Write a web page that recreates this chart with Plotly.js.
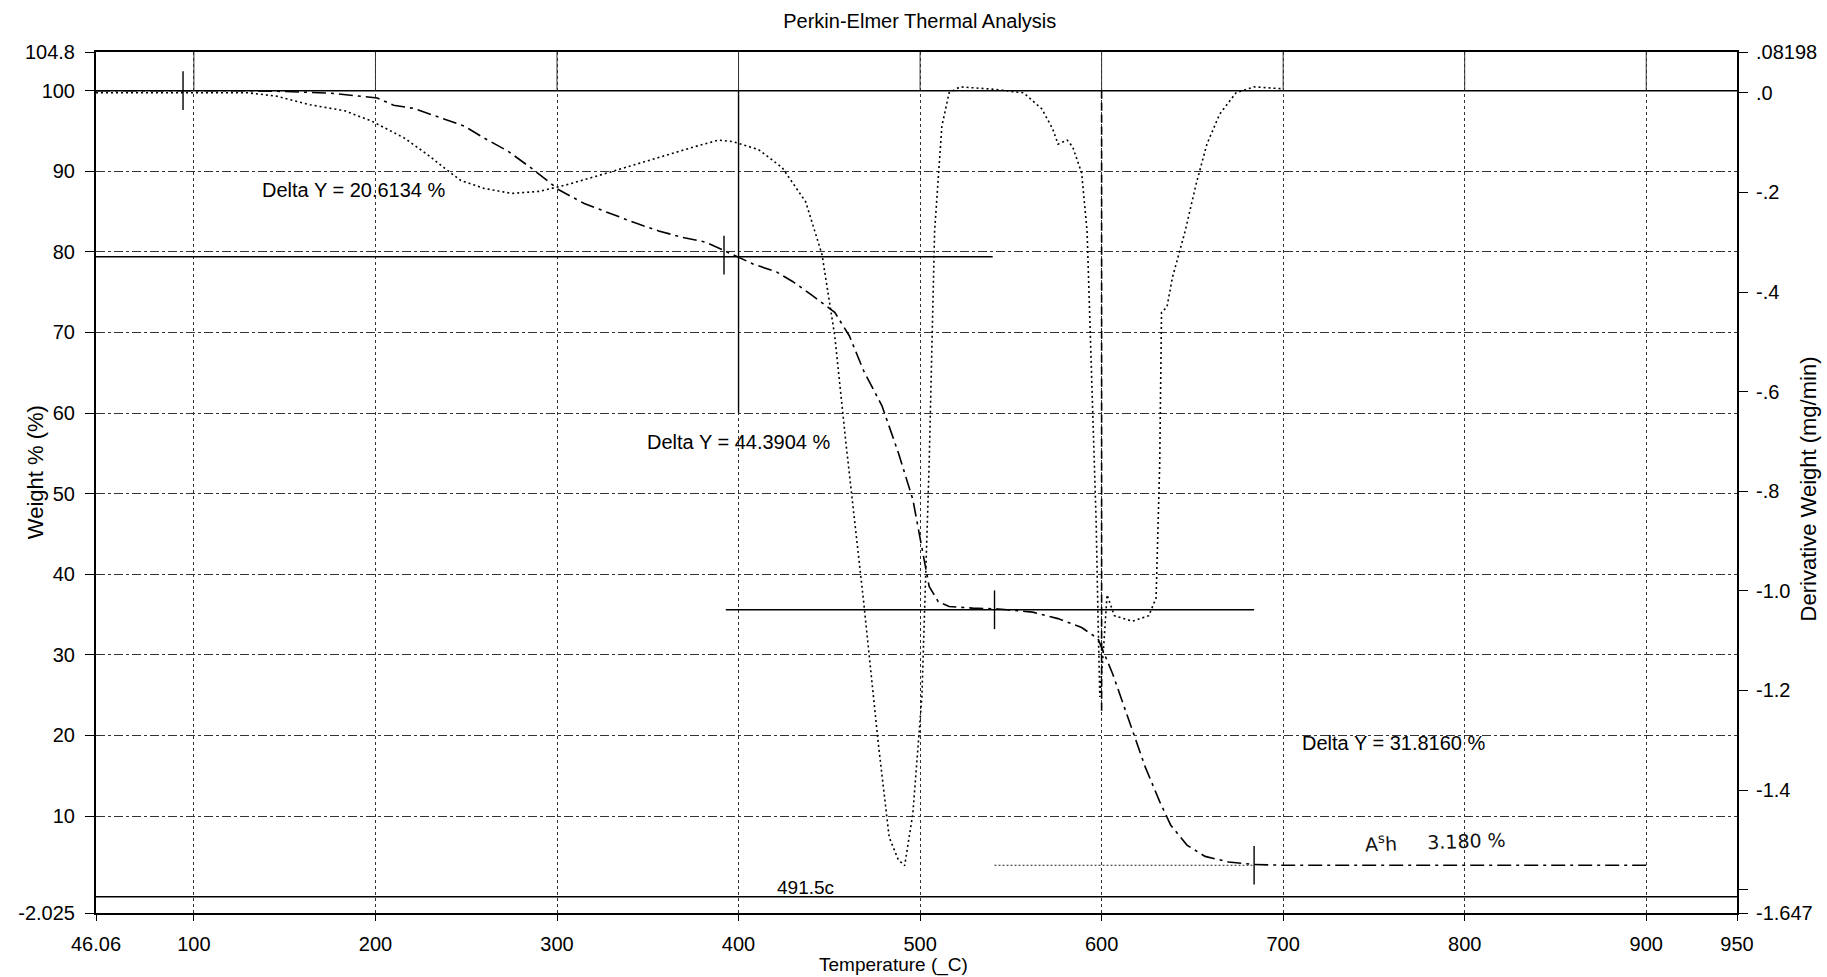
<!DOCTYPE html>
<html><head><meta charset="utf-8">
<script src="https://cdn.plot.ly/plotly-3.0.1.min.js"></script>
<style>html,body{margin:0;padding:0;background:#fff;} #chart{width:1827px;height:977px;}</style>
</head><body><div id="chart"></div>
<script>
// ---- Weight % curve (TGA) ----
const tempWeight = [46.06,100,130,150,175,201,210,221,231,242,249,260,273,287,301,315,329,343,356,369,382,397,408,421,430,440,453,461,469,479,488,496,501,505,510,516,529,543,562,576,589,598,606,616,624,632,638,647,657,670,684,700,800,900];
const weightPct  = [100,100,100,99.9,99.7,99.1,98.2,97.8,97.0,96.2,95.6,94.1,92.5,90.2,87.7,86.0,84.8,83.6,82.6,81.8,81.2,79.7,78.5,77.5,76.3,74.7,72.5,69.6,65.2,60.9,55.1,49.3,43.5,38.5,36.6,36.0,35.8,35.7,35.3,34.5,33.4,32.0,27.7,21.1,16.1,11.8,8.9,6.4,5.0,4.3,4.0,3.9,3.9,3.9];

// ---- Derivative weight curve (DTG, mg/min) ----
const tempDeriv = [46.06,100,130,146,164,183,198,216,229,238,247,260,275,290,305,323,349,376,389,397,411,424,437,446,453,459,469,477,483,488,491.5,496,501,505,508,512,516,522,541,557,567,573,576,581,584,589,592,594,597,598,599,601,603,607,617,626,630,632,633,636,639,646,652,658,665,674,684,700];
const derivWeight = [0.0,0.0,0.0,-0.007,-0.024,-0.036,-0.057,-0.091,-0.125,-0.151,-0.176,-0.192,-0.202,-0.198,-0.185,-0.166,-0.137,-0.108,-0.095,-0.098,-0.114,-0.150,-0.219,-0.325,-0.488,-0.698,-1.025,-1.307,-1.495,-1.540,-1.552,-1.448,-1.213,-0.746,-0.278,-0.067,0.0,0.012,0.007,0.0,-0.032,-0.072,-0.103,-0.095,-0.108,-0.161,-0.278,-0.512,-0.863,-1.05,-1.213,-1.119,-1.008,-1.05,-1.061,-1.050,-1.014,-0.746,-0.441,-0.430,-0.371,-0.278,-0.184,-0.103,-0.043,0.0,0.012,0.008];

// ---- Axis ticks ----
const xTickVals = [46.06,100,200,300,400,500,600,700,800,900,950];
const xTickText = ["46.06","100","200","300","400","500","600","700","800","900","950"];
const yTickVals = [104.8,100,90,80,70,60,50,40,30,20,10,-2.025];
const yTickText = ["104.8","100","90","80","70","60","50","40","30","20","10","-2.025"];
const y2TickVals = [0.08198,0,-0.2,-0.4,-0.6,-0.8,-1.0,-1.2,-1.4,-1.6,-1.647];
const y2TickText = [".08198",".0","-.2","-.4","-.6","-.8","-1.0","-1.2","-1.4","","-1.647"];

// ---- Step analysis marks ----
const stepLevels = [79.4, 35.6];
const stepStarts = [46.06, 393];
const stepEnds   = [540, 684];
const ashLineStart = 541, ashLineEnd = 684, ashLevel = 3.9;
const markerTemps  = [94, 392, 541, 684];
const markerLevels = [100, 79.6, 35.6, 3.9];
const deltaLabels = ["Delta Y = 20.6134 %","Delta Y = 44.3904 %","Delta Y = 31.8160 %"];
const deltaX = [188, 400, 761];
const deltaY = [87.7, 56.4, 19.1];
const peakLabel = "491.5c", peakX = 437, peakY = 1.1;
const ashLabel = "A<sup>s</sup>h&nbsp;&nbsp;&nbsp;&nbsp;&nbsp;3.180&nbsp;%", ashX = 784, ashY = 6.9;
const gridTemps = [100,200,300,400,500,600,700,800,900];

const F = "Liberation Sans, Arial, sans-serif";
const K = "#000";

const traces = [
  {x: tempWeight, y: weightPct, type: 'scatter', mode: 'lines', xaxis: 'x', yaxis: 'y',
   line: {color: K, width: 1.6, dash: '14px,5px,3px,5px'}, hoverinfo: 'skip'},
  {x: tempDeriv, y: derivWeight, type: 'scatter', mode: 'lines', xaxis: 'x', yaxis: 'y2',
   line: {color: K, width: 1.6, dash: '2px,3px'}, hoverinfo: 'skip'}
];

const shapes = [];
shapes.push({type:'line', xref:'x', yref:'y', x0:46.06, x1:950, y0:100, y1:100, line:{color:K, width:1.6}});
shapes.push({type:'line', xref:'x', yref:'y', x0:46.06, x1:950, y0:0, y1:0, line:{color:K, width:1.6}});
gridTemps.forEach(t => shapes.push({type:'line', xref:'x', yref:'y', x0:t, x1:t, y0:100, y1:104.8, line:{color:'#333', width:1}}));
shapes.push({type:'line', xref:'x', yref:'y', x0:400, x1:400, y0:100, y1:60, line:{color:K, width:1.4}});
shapes.push({type:'line', xref:'x', yref:'y', x0:600, x1:600, y0:100, y1:23, line:{color:K, width:1.6, dash:'8px,4px'}});
stepLevels.forEach((lv,i) => shapes.push({type:'line', xref:'x', yref:'y', x0:stepStarts[i], x1:stepEnds[i], y0:lv, y1:lv, line:{color:K, width:1.4}}));
shapes.push({type:'line', xref:'x', yref:'y', x0:ashLineStart, x1:ashLineEnd, y0:ashLevel, y1:ashLevel, line:{color:'#222', width:1, dash:'2px,2px'}});
markerTemps.forEach((t,i) => shapes.push({type:'line', xref:'x', yref:'y', x0:t, x1:t, y0:markerLevels[i]-2.4, y1:markerLevels[i]+2.4, line:{color:K, width:1.4}}));

const annotations = [];
deltaLabels.forEach((s,i) => annotations.push({text:s, x:deltaX[i], y:deltaY[i], xref:'x', yref:'y', showarrow:false, xanchor:'center', yanchor:'middle', font:{family:F, size:20, color:K}}));
annotations.push({text:peakLabel, x:peakX, y:peakY, xref:'x', yref:'y', showarrow:false, xanchor:'center', yanchor:'middle', font:{family:F, size:19, color:K}});
annotations.push({text:ashLabel, x:ashX, y:ashY, xref:'x', yref:'y', showarrow:false, xanchor:'center', yanchor:'middle', font:{family:'DejaVu Sans, sans-serif', size:19, color:'#111'}, textangle:-2});
annotations.push({text:'Weight % (%)', xref:'paper', yref:'paper', x:0, y:0.512, xshift:-61, xanchor:'center', yanchor:'middle', showarrow:false, textangle:-90, font:{family:F, size:22, color:K}});
annotations.push({text:'Derivative Weight (mg/min)', xref:'paper', yref:'paper', x:1, y:0.492, xshift:71, xanchor:'center', yanchor:'middle', showarrow:false, textangle:-90, font:{family:F, size:22, color:K}});
annotations.push({text:'Temperature (_C)', xref:'paper', yref:'paper', x:0.486, y:0, yshift:-52, xanchor:'center', yanchor:'middle', showarrow:false, font:{family:F, size:19, color:K}});

const layout = {
  width: 1827, height: 977,
  margin: {l: 96, r: 90, t: 52, b: 64},
  paper_bgcolor: '#fff', plot_bgcolor: '#fff',
  showlegend: false,
  title: {text: 'Perkin-Elmer Thermal Analysis', x: 0.502, xref: 'paper', y: 0.979, yanchor: 'middle', font: {family: F, size: 20, color: K}},
  xaxis: {range: [46.06, 950], tickmode: 'array', tickvals: xTickVals, ticktext: xTickText,
    showline: true, linecolor: K, linewidth: 2, mirror: true, ticks: 'outside', ticklen: 6, tickcolor: K,
    ticklabelstandoff: 6,
    showgrid: true, gridcolor: '#333', gridwidth: 1, griddash: 'dot', zeroline: false,
    tickfont: {family: F, size: 20, color: K}},
  yaxis: {range: [-2.025, 104.8], tickmode: 'array', tickvals: yTickVals, ticktext: yTickText,
    showline: true, linecolor: K, linewidth: 2, mirror: false, ticks: 'outside', ticklen: 9, tickcolor: K,
    ticklabelstandoff: 6,
    showgrid: true, gridcolor: '#333', gridwidth: 1, griddash: 'dashdot', zeroline: false,
    tickfont: {family: F, size: 20, color: K}},
  yaxis2: {range: [-1.647, 0.08198], overlaying: 'y', side: 'right', tickmode: 'array', tickvals: y2TickVals, ticktext: y2TickText,
    showline: true, linecolor: K, linewidth: 2, ticks: 'outside', ticklen: 9, tickcolor: K,
    ticklabelstandoff: 4,
    showgrid: false, zeroline: false, tickfont: {family: F, size: 20, color: K}},
  shapes: shapes,
  annotations: annotations
};

Plotly.newPlot('chart', traces, layout, {staticPlot: true, displayModeBar: false});
</script>
</body></html>
